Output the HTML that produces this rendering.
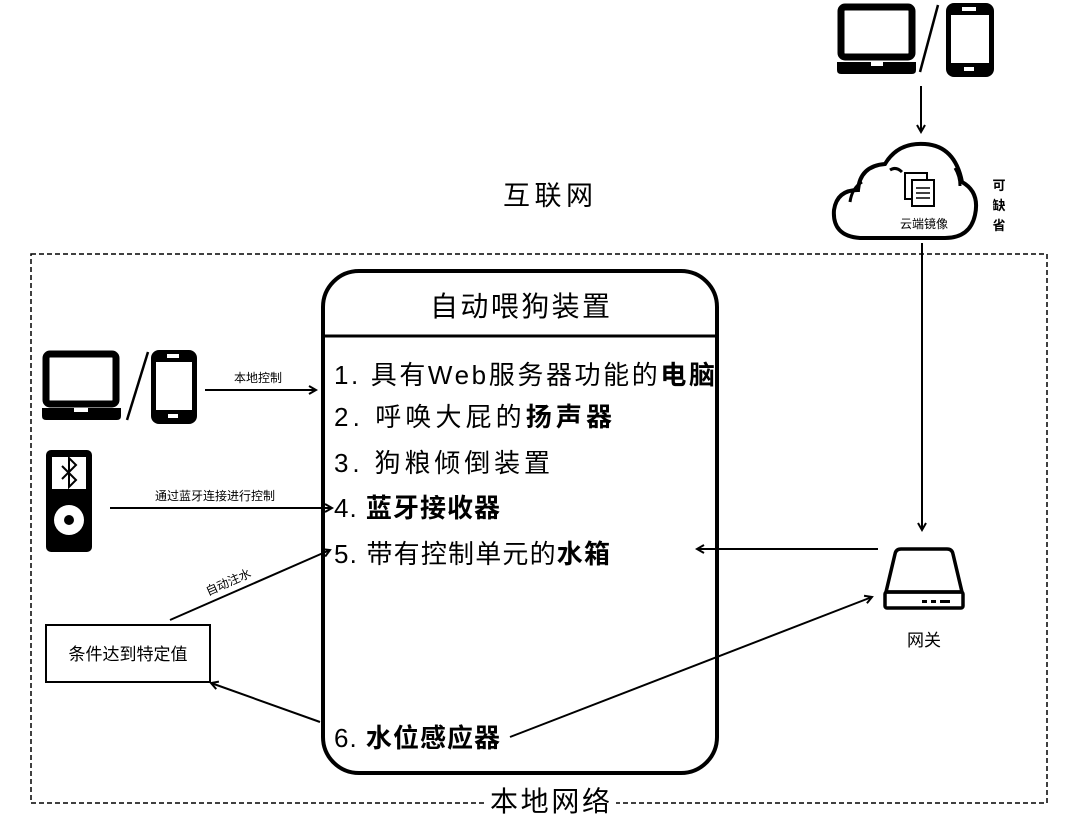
<!DOCTYPE html>
<html><head><meta charset="utf-8"><style>
body{margin:0;background:#fff;}
svg{display:block;font-family:"Liberation Sans","Noto Sans CJK SC",sans-serif;}
</style></head><body>
<svg width="1080" height="820" viewBox="0 0 1080 820" xmlns="http://www.w3.org/2000/svg">
<defs>
<marker id="a" markerWidth="10" markerHeight="10" refX="8" refY="5" orient="auto" markerUnits="userSpaceOnUse"><path d="M1,1 L8,5 L1,9" fill="none" stroke="#000" stroke-width="2"/></marker>
</defs>
<rect x="31" y="254" width="1016" height="549" fill="none" stroke="#000" stroke-width="1.5" stroke-dasharray="5,3"/>
<rect x="484" y="788" width="132" height="28" fill="#fff"/>
<text x="490" y="811" font-size="28" textLength="120" lengthAdjust="spacing">本地网络</text>
<text x="503" y="205" font-size="27" textLength="90" lengthAdjust="spacing">互联网</text>

<rect x="323" y="271" width="394" height="502" rx="36" fill="none" stroke="#000" stroke-width="4"/>
<line x1="323" y1="336" x2="717" y2="336" stroke="#000" stroke-width="3"/>
<text x="430" y="316" font-size="28" textLength="180" lengthAdjust="spacing">自动喂狗装置</text>
<g font-size="26">
<text x="334" y="384" textLength="381" lengthAdjust="spacing">1. 具有Web服务器功能的<tspan font-weight="bold">电脑</tspan></text>
<text x="334" y="426" textLength="278" lengthAdjust="spacing">2. 呼唤大屁的<tspan font-weight="bold">扬声器</tspan></text>
<text x="334" y="472" textLength="216" lengthAdjust="spacing">3. 狗粮倾倒装置</text>
<text x="334" y="517" textLength="166" lengthAdjust="spacing">4. <tspan font-weight="bold">蓝牙接收器</tspan></text>
<text x="334" y="563" textLength="276" lengthAdjust="spacing">5. 带有控制单元的<tspan font-weight="bold">水箱</tspan></text>
<text x="334" y="747" textLength="166" lengthAdjust="spacing">6. <tspan font-weight="bold">水位感应器</tspan></text>
</g>

<!-- left laptop / phone -->
<g>
<rect x="46" y="354" width="70" height="50" rx="4" fill="none" stroke="#000" stroke-width="7"/>
<path d="M42,408 H121 V416 Q121,420 117,420 H46 Q42,420 42,416 Z" fill="#000"/>
<rect x="74" y="408" width="14" height="4" fill="#fff"/>
<line x1="148" y1="352" x2="127" y2="420" stroke="#000" stroke-width="2.5"/>
<rect x="151" y="350" width="46" height="74" rx="8" fill="#000"/>
<rect x="156" y="362" width="36" height="48" fill="#fff"/>
<rect x="167" y="354" width="12" height="4" fill="#fff"/>
<rect x="168" y="414" width="10" height="4" fill="#fff"/>
</g>
<line x1="205" y1="390" x2="316" y2="390" stroke="#000" stroke-width="2" marker-end="url(#a)"/>
<text x="258" y="382" font-size="12" text-anchor="middle">本地控制</text>

<!-- ipod -->
<rect x="46" y="450" width="46" height="102" rx="5" fill="#000"/>
<rect x="52" y="457" width="34" height="32" fill="#fff"/>
<path d="M62,464 L76,478 L69,485 V456 L76,463 L62,477" fill="none" stroke="#000" stroke-width="2" transform="translate(0,2)"/>
<circle cx="69" cy="520" r="15" fill="#fff"/>
<circle cx="69" cy="520" r="5" fill="#000"/>
<line x1="110" y1="508" x2="332" y2="508" stroke="#000" stroke-width="2" marker-end="url(#a)"/>
<text x="215" y="500" font-size="12" text-anchor="middle">通过蓝牙连接进行控制</text>

<rect x="46" y="625" width="164" height="57" fill="none" stroke="#000" stroke-width="2"/>
<text x="128" y="660" font-size="17" text-anchor="middle">条件达到特定值</text>
<line x1="170" y1="620" x2="330" y2="550" stroke="#000" stroke-width="2" marker-end="url(#a)"/>
<text x="0" y="0" font-size="12" text-anchor="middle" transform="translate(230,586) rotate(-24)">自动注水</text>
<line x1="320" y1="722" x2="211" y2="683" stroke="#000" stroke-width="2" marker-end="url(#a)"/>
<line x1="510" y1="737" x2="872" y2="597" stroke="#000" stroke-width="2" marker-end="url(#a)"/>
<line x1="878" y1="549" x2="697" y2="549" stroke="#000" stroke-width="2" marker-end="url(#a)"/>
<line x1="922" y1="243" x2="922" y2="530" stroke="#000" stroke-width="2" marker-end="url(#a)"/>

<!-- gateway -->
<path d="M886,592 L895,554 Q896,549 901,549 H947 Q952,549 953,554 L962,592 Z" fill="none" stroke="#000" stroke-width="3.5"/>
<rect x="885" y="592" width="78" height="16" rx="2" fill="none" stroke="#000" stroke-width="3.5"/>
<rect x="922" y="600" width="5" height="3" fill="#000"/><rect x="931" y="600" width="5" height="3" fill="#000"/><rect x="940" y="600" width="10" height="3" fill="#000"/>
<text x="924" y="646" font-size="17" text-anchor="middle">网关</text>

<!-- top laptop/phone -->
<rect x="841" y="7" width="71" height="50" rx="4" fill="none" stroke="#000" stroke-width="7"/>
<path d="M837,62 H916 V70 Q916,74 912,74 H841 Q837,74 837,70 Z" fill="#000"/>
<rect x="871" y="62" width="12" height="4" fill="#fff"/>
<line x1="938" y1="5" x2="920" y2="72" stroke="#000" stroke-width="2.5"/>
<rect x="946" y="3" width="48" height="74" rx="8" fill="#000"/>
<rect x="951" y="15" width="38" height="48" fill="#fff"/>
<rect x="962" y="7" width="14" height="4" fill="#fff"/>
<rect x="964" y="67" width="10" height="4" fill="#fff"/>
<line x1="921" y1="86" x2="921" y2="132" stroke="#000" stroke-width="2" marker-end="url(#a)"/>

<!-- cloud -->
<path d="M860,238 Q832,236 834,210 Q837,190 858,190 Q860,166 885,164 Q898,142 925,144 Q955,146 962,182 Q980,192 975,215 Q970,238 945,238 Z" fill="none" stroke="#000" stroke-width="4"/>
<path d="M850,202 Q852,188 862,182" fill="none" stroke="#000" stroke-width="3"/>
<path d="M890,170 Q896,166 902,172" fill="none" stroke="#000" stroke-width="3"/>
<path d="M955,168 Q960,176 960,186" fill="none" stroke="#000" stroke-width="3"/>
<rect x="905" y="173" width="22" height="26" fill="#fff" stroke="#000" stroke-width="2"/>
<rect x="912" y="180" width="22" height="26" fill="#fff" stroke="#000" stroke-width="2"/>
<line x1="916" y1="188" x2="930" y2="188" stroke="#000" stroke-width="1.5"/><line x1="916" y1="193" x2="930" y2="193" stroke="#000" stroke-width="1.5"/><line x1="916" y1="198" x2="930" y2="198" stroke="#000" stroke-width="1.5"/>
<text x="924" y="228" font-size="12" text-anchor="middle">云端镜像</text>
<g font-size="13" font-weight="bold" text-anchor="middle"><text x="999" y="190">可</text><text x="999" y="210">缺</text><text x="999" y="230">省</text></g>
</svg>
</body></html>
